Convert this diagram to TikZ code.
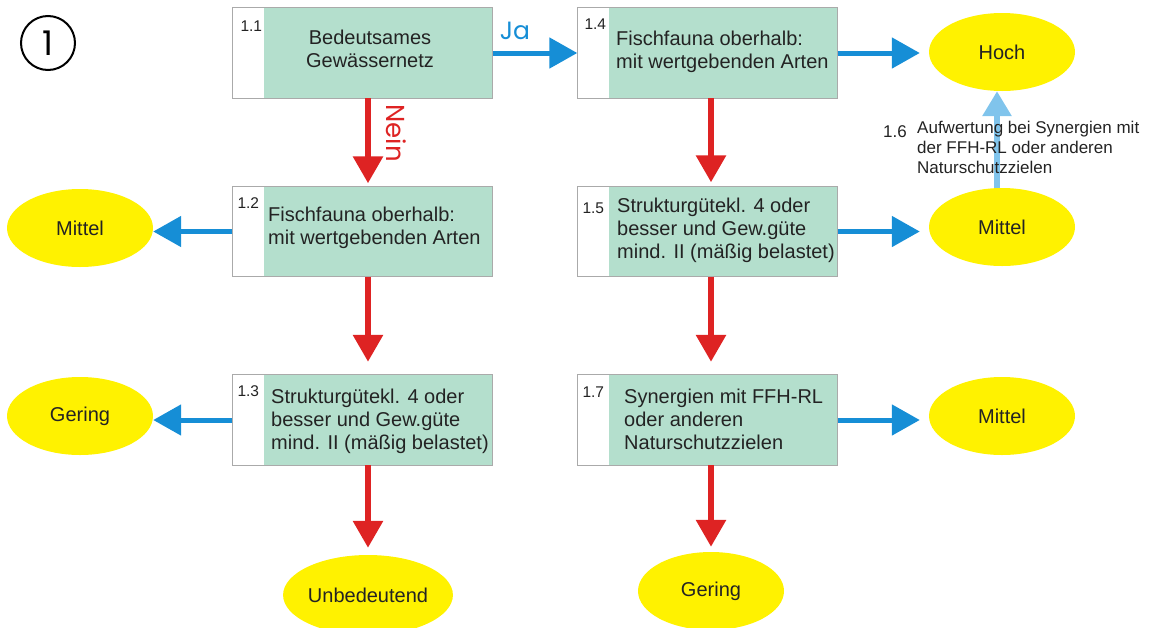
\documentclass[tikz,border=0pt]{standalone}
\usepackage{fontspec}
\setmainfont{Liberation Sans}
\newfontfamily\gothic{Poppins}
\usetikzlibrary{arrows.meta,shapes.geometric}
\definecolor{mint}{RGB}{180,223,205}
\definecolor{boxgray}{RGB}{170,170,170}
\definecolor{yel}{RGB}{255,242,0}
\definecolor{arrblue}{RGB}{22,142,214}
\definecolor{lblue}{RGB}{128,196,236}
\definecolor{arrred}{RGB}{222,35,35}
\definecolor{txt}{RGB}{35,35,35}
\newcommand\mkbox[2]{%
  \node[flowbox] (#1) at (#2) {};
  \fill[mint] ([xshift=32pt]#1.north west) rectangle (#1.south east);
  \draw[boxline] (#1.north west) rectangle (#1.south east);
}
\begin{document}
\begin{tikzpicture}[x=1pt,y=-1pt,
  flowbox/.style={rectangle, fill=white, draw=none, minimum width=260pt, minimum height=90pt, inner sep=0pt},
  boxline/.style={draw=boxgray, line width=0.9pt},
  btext/.style={align=left, inner sep=0pt, text=txt, font=\fontsize{20}{22.8}\selectfont},
  ctext/.style={align=center, inner sep=0pt, text=txt, font=\fontsize{20}{22.8}\selectfont},
  numlbl/.style={inner sep=0pt, text=txt, font=\fontsize{15.5}{17}\selectfont},
  oval/.style={ellipse, fill=yel, minimum width=146pt, minimum height=78pt, inner sep=0pt, text=txt, font=\fontsize{20}{24}\selectfont},
  redarrow/.style={draw=arrred, line width=6pt, -{Triangle[width=29pt,length=27pt]}},
  bluearrow/.style={draw=arrblue, line width=5pt, -{Triangle[width=30pt,length=28pt]}},
  lbarrow/.style={draw=lblue, line width=6pt, -{Triangle[width=28pt,length=25pt]}},
  note/.style={align=left, inner sep=0pt, text=txt, font=\fontsize{17}{20}\selectfont}
]
\useasboundingbox (0,0) rectangle (1155,627);

% circled number
\node[draw=black, circle, line width=2pt, minimum size=54pt, inner sep=0pt] (one) at (48,43) {\gothic\fontsize{34}{34}\selectfont 1};

% boxes
\mkbox{b11}{362.5,53}
\mkbox{b12}{362.5,231.5}
\mkbox{b13}{362.5,420}
\mkbox{b14}{707.5,53}
\mkbox{b15}{707.5,231.5}
\mkbox{b17}{707.5,420}

% box numbers
\node[numlbl, anchor=base west] (n11) at ([xshift=8pt,yshift=-24pt]b11.north west) {1.1};
\node[numlbl, anchor=base west] (n12) at ([xshift=5pt,yshift=-22pt]b12.north west) {1.2};
\node[numlbl, anchor=base west] (n13) at ([xshift=5pt,yshift=-22pt]b13.north west) {1.3};
\node[numlbl, anchor=base west] (n14) at ([xshift=7pt,yshift=-22pt]b14.north west) {1.4};
\node[numlbl, anchor=base west] (n15) at ([xshift=5pt,yshift=-27pt]b15.north west) {1.5};
\node[numlbl, anchor=base west] (n17) at ([xshift=5pt,yshift=-23pt]b17.north west) {1.7};

% box texts
\node[ctext, anchor=north] (t11) at (370,30) {Bedeutsames\\Gew\"assernetz};
\node[btext, anchor=north west] (t12) at (268,207) {Fischfauna oberhalb:\\mit wertgebenden Arten};
\node[btext, anchor=north west] (t13) at (271,389) {Strukturg\"utekl. 4 oder\\besser und Gew.g\"ute\\mind. II (m\"a\ss ig belastet)};
\node[btext, anchor=north west] (t14) at (616,31) {Fischfauna oberhalb:\\mit wertgebenden Arten};
\node[btext, anchor=north west] (t15) at (617,198) {Strukturg\"utekl. 4 oder\\besser und Gew.g\"ute\\mind. II (m\"a\ss ig belastet)};
\node[btext, anchor=north west] (t17) at (624,389) {Synergien mit FFH-RL\\oder anderen\\Naturschutzzielen};

% ovals
\node[oval] (hoch) at (1002,52) {Hoch};
\node[oval] (m15) at (1002,227) {Mittel};
\node[oval] (m17) at (1002,416) {Mittel};
\node[oval] (ml) at (80,228) {Mittel};
\node[oval] (gl) at (80,416) {Gering};
\node[oval, minimum width=145pt, minimum height=80pt] (unb) at (368,595) {Unbedeutend};
\node[oval] (gb) at (711,591) {Gering};

% connectors
\draw[bluearrow] (b11.east) -- (b14.west);
\node[inner sep=0pt, text=arrblue, font=\gothic\fontsize{25}{25}\selectfont] (ja) at (515,31) {Ja};
\draw[bluearrow] (b14.east) -- ([xshift=-9pt]hoch.west |- b14.east);
\draw[bluearrow] (b15.east) -- ([xshift=-9pt]m15.west |- b15.east);
\draw[bluearrow] (b17.east) -- ([xshift=-9pt]m17.west |- b17.east);
\draw[bluearrow] (b12.west) -- (ml.east |- b12.west);
\draw[bluearrow] (b13.west) -- (gl.east |- b13.west);

\draw[redarrow] ([xshift=5.5pt]b11.south) -- ([xshift=5.5pt,yshift=3pt]b12.north);
\node[inner sep=0pt, text=arrred, rotate=-90, font=\gothic\fontsize{26}{26}\selectfont] (nein) at (396,133) {Nein};
\draw[redarrow] ([xshift=5.5pt]b12.south) -- ([xshift=5.5pt,yshift=13pt]b13.north);
\draw[redarrow] ([xshift=5.5pt]b13.south) -- ([yshift=7pt]unb.north);

\draw[redarrow] ([xshift=3.5pt]b14.south) -- ([xshift=3.5pt,yshift=4pt]b15.north);
\draw[redarrow] ([xshift=3.5pt]b15.south) -- ([xshift=3.5pt,yshift=13pt]b17.north);
\draw[redarrow] ([xshift=3.5pt]b17.south) -- ([yshift=5pt]gb.north);

\draw[lbarrow] ([xshift=-5pt]m15.north) -- ([xshift=-5pt]hoch.south);

% note 1.6
\node[note, anchor=base west] (n16) at (883,137) {1.6};
\node[note, anchor=north west] (t16) at (917,121) {Aufwertung bei Synergien mit\\der FFH-RL oder anderen\\Naturschutzzielen};
\end{tikzpicture}
\end{document}
